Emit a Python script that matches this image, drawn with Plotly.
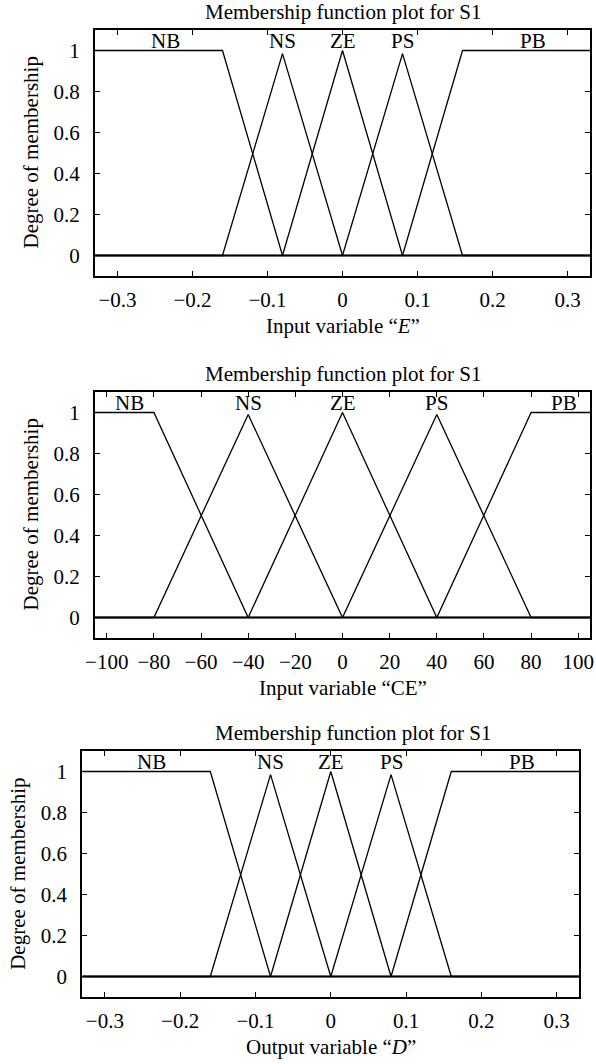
import plotly.graph_objects as go

# ---------------- data ----------------
mf_names = ["NB", "NS", "ZE", "PS", "PB"]

# Panel 1: input variable E
e_range = [-0.33, 0.33]
e_nb_x = [-0.33, -0.16, -0.08, 0.33]; e_nb_y = [1, 1, 0, 0]
e_ns_x = [-0.33, -0.16, -0.08, 0.0, 0.33]; e_ns_y = [0, 0, 0.985, 0, 0]
e_ze_x = [-0.33, -0.08, 0.0, 0.08, 0.33]; e_ze_y = [0, 0, 1, 0, 0]
e_ps_x = [-0.33, 0.0, 0.08, 0.16, 0.33]; e_ps_y = [0, 0, 0.985, 0, 0]
e_pb_x = [-0.33, 0.08, 0.16, 0.33]; e_pb_y = [0, 0, 1, 1]
e_label_x = [-0.236, -0.08, 0.0, 0.08, 0.254]
e_ticks = [-0.3, -0.2, -0.1, 0, 0.1, 0.2, 0.3]
e_ticktext = ["\u22120.3", "\u22120.2", "\u22120.1", "0", "0.1", "0.2", "0.3"]

# Panel 2: input variable CE
ce_range = [-105, 105]
ce_nb_x = [-105, -80, -40, 105]; ce_nb_y = [1, 1, 0, 0]
ce_ns_x = [-105, -80, -40, 0, 105]; ce_ns_y = [0, 0, 0.99, 0, 0]
ce_ze_x = [-105, -40, 0, 40, 105]; ce_ze_y = [0, 0, 1, 0, 0]
ce_ps_x = [-105, 0, 40, 80, 105]; ce_ps_y = [0, 0, 0.99, 0, 0]
ce_pb_x = [-105, 40, 80, 105]; ce_pb_y = [0, 0, 1, 1]
ce_label_x = [-90.5, -40, 0, 40, 94]
ce_ticks = [-100, -80, -60, -40, -20, 0, 20, 40, 60, 80, 100]
ce_ticktext = ["\u2212100", "\u221280", "\u221260", "\u221240", "\u221220", "0",
               "20", "40", "60", "80", "100"]

# Panel 3: output variable D
d_range = [-0.33, 0.33]
d_nb_x = [-0.33, -0.16, -0.08, 0.33]; d_nb_y = [1, 1, 0, 0]
d_ns_x = [-0.33, -0.16, -0.08, 0.0, 0.33]; d_ns_y = [0, 0, 0.985, 0, 0]
d_ze_x = [-0.33, -0.08, 0.0, 0.08, 0.33]; d_ze_y = [0, 0, 1, 0, 0]
d_ps_x = [-0.33, 0.0, 0.08, 0.16, 0.33]; d_ps_y = [0, 0, 0.985, 0, 0]
d_pb_x = [-0.33, 0.08, 0.16, 0.33]; d_pb_y = [0, 0, 1, 1]
d_label_x = [-0.238, -0.08, 0.0, 0.08, 0.254]
d_ticks = e_ticks
d_ticktext = e_ticktext

y_ticks = [0, 0.2, 0.4, 0.6, 0.8, 1]
y_ticktext = ["0", "0.2", "0.4", "0.6", "0.8", "1"]

title_text = "Membership function plot for S1"
y_title = "Degree of membership"
x_titles = ["Input variable \u201c<i>E</i>\u201d",
            "Input variable \u201cCE\u201d",
            "Output variable \u201c<i>D</i>\u201d"]

# ---------------- layout geometry (pixels) ----------------
W, H = 596, 1064
FONT = "Liberation Serif, Times New Roman, serif"
FS = 21
panels = [
    # left, right, top, bottom, title_x_center
    dict(l=87, r=594, t=30, b=276, tx=340.5),
    dict(l=87, r=594, t=392, b=638, tx=340.5),
    dict(l=74, r=583, t=751, b=997, tx=351),
]

mf_sets = [
    [(e_nb_x, e_nb_y), (e_ns_x, e_ns_y), (e_ze_x, e_ze_y), (e_ps_x, e_ps_y), (e_pb_x, e_pb_y)],
    [(ce_nb_x, ce_nb_y), (ce_ns_x, ce_ns_y), (ce_ze_x, ce_ze_y), (ce_ps_x, ce_ps_y), (ce_pb_x, ce_pb_y)],
    [(d_nb_x, d_nb_y), (d_ns_x, d_ns_y), (d_ze_x, d_ze_y), (d_ps_x, d_ps_y), (d_pb_x, d_pb_y)],
]
label_xs = [e_label_x, ce_label_x, d_label_x]
x_ranges = [e_range, ce_range, d_range]
x_tickvals = [e_ticks, ce_ticks, d_ticks]
x_ticktexts = [e_ticktext, ce_ticktext, d_ticktext]

fig = go.Figure()
annotations = []
layout_axes = {}

for i, (p, mfs) in enumerate(zip(panels, mf_sets)):
    n = "" if i == 0 else str(i + 1)
    xa, ya = "x" + n, "y" + n
    for (xs, ys) in mfs:
        fig.add_trace(go.Scatter(x=xs, y=ys, mode="lines", xaxis=xa, yaxis=ya,
                                 line=dict(color="black", width=1.3),
                                 showlegend=False, hoverinfo="skip"))
    axis_common = dict(showline=True, linecolor="black", linewidth=2, mirror="ticks",
                       ticks="inside", ticklen=5, tickwidth=1, tickcolor="black",
                       showgrid=False, zeroline=False, ticklabeloverflow="allow",
                       tickfont=dict(family=FONT, size=FS, color="black"))
    layout_axes["xaxis" + n] = dict(axis_common, domain=[p["l"] / W, p["r"] / W],
                                    anchor=ya, range=x_ranges[i],
                                    tickmode="array", tickvals=x_tickvals[i],
                                    ticktext=x_ticktexts[i], ticklabelstandoff=4)
    layout_axes["yaxis" + n] = dict(axis_common, domain=[1 - p["b"] / H, 1 - p["t"] / H],
                                    anchor=xa, range=[-0.1, 1.1],
                                    tickmode="array", tickvals=y_ticks,
                                    ticktext=y_ticktext, ticklabelstandoff=9)
    # MF labels
    for name, lx in zip(mf_names, label_xs[i]):
        annotations.append(dict(x=lx, y=1.045, xref=xa, yref=ya, text=name,
                                showarrow=False, xanchor="center", yanchor="middle",
                                font=dict(family=FONT, size=FS, color="black")))
    # panel title
    annotations.append(dict(x=p["tx"] / W, y=1 - (p["t"] - 18) / H, xref="paper", yref="paper",
                            text=title_text, showarrow=False, xanchor="center", yanchor="middle",
                            font=dict(family=FONT, size=FS, color="black")))
    # x axis title
    annotations.append(dict(x=(p["l"] + p["r"]) / 2 / W, y=1 - (p["b"] + 50) / H,
                            xref="paper", yref="paper", text=x_titles[i], showarrow=False,
                            xanchor="center", yanchor="middle",
                            font=dict(family=FONT, size=FS, color="black")))
    # y axis title
    annotations.append(dict(x=(p["l"] - 66) / W, y=1 - (p["t"] + p["b"]) / 2 / H,
                            xref="paper", yref="paper", text=y_title, showarrow=False,
                            textangle=-90, xanchor="center", yanchor="middle",
                            font=dict(family=FONT, size=FS, color="black")))

fig.update_layout(width=W, height=H, autosize=False,
                  margin=dict(l=0, r=0, t=0, b=0),
                  paper_bgcolor="white", plot_bgcolor="white",
                  annotations=annotations, **layout_axes)

fig.write_html("out.html")
